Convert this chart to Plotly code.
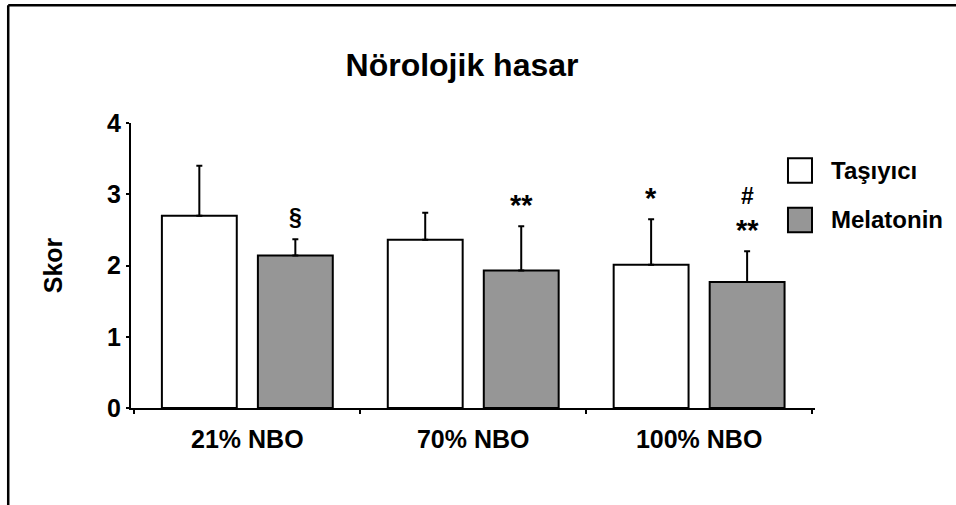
import plotly.graph_objects as go

categories = ["21% NBO", "70% NBO", "100% NBO"]
tasiyici_mean = [2.70, 2.36, 2.01]
tasiyici_err = [0.70, 0.38, 0.64]
melatonin_mean = [2.14, 1.93, 1.77]
melatonin_err = [0.23, 0.62, 0.43]
tasiyici_marks = ["", "", "*"]
melatonin_marks = ["§", "**", "**|#"]
series_names = ["Taşıyıcı", "Melatonin"]
y_ticks = [0, 1, 2, 3, 4]

FONT = "Liberation Sans, Arial, sans-serif"
GREY = "#969696"

fig = go.Figure()
fig.add_trace(go.Bar(
    x=categories, y=tasiyici_mean, name=series_names[0],
    marker=dict(color="white", line=dict(color="black", width=2)),
    error_y=dict(type="data", array=tasiyici_err, symmetric=False,
                 arrayminus=[0] * 3, color="black", thickness=2, width=3),
))
fig.add_trace(go.Bar(
    x=categories, y=melatonin_mean, name=series_names[1],
    marker=dict(color=GREY, line=dict(color="black", width=2)),
    error_y=dict(type="data", array=melatonin_err, symmetric=False,
                 arrayminus=[0] * 3, color="black", thickness=2, width=3),
))

annotations = []
for i, c in enumerate(categories):
    for marks, means, errs, shift in ((tasiyici_marks, tasiyici_mean, tasiyici_err, -48),
                                      (melatonin_marks, melatonin_mean, melatonin_err, 48)):
        if not marks[i]:
            continue
        for level, t in enumerate(marks[i].split("|")):
            star = "*" in t
            annotations.append(dict(
                x=c, y=means[i] + errs[i], xref="x", yref="y", text=t,
                showarrow=False, xshift=shift, yanchor="bottom",
                yshift=(3 if star else 7) + 33 * level,
                font=dict(family=FONT, size=29 if star else 23, color="black", weight="bold"),
            ))

# custom legend
legend_y = [0.833, 0.660]
legend_fill = ["white", GREY]
shapes = []
for name, yc, fill in zip(series_names, legend_y, legend_fill):
    shapes.append(dict(type="rect", xref="paper", yref="paper",
                       x0=0.9605, x1=0.9956, y0=yc - 0.043, y1=yc + 0.043,
                       line=dict(color="black", width=2), fillcolor=fill))
    annotations.append(dict(x=1.0205, y=yc, xref="paper", yref="paper", text=name,
                            showarrow=False, xanchor="left", yanchor="middle",
                            font=dict(family=FONT, size=24, color="black", weight="bold")))

# frame
shapes.append(dict(type="line", xref="paper", yref="paper", x0=-0.1795, x1=-0.1795,
                   y0=-0.4, y1=1.413, line=dict(color="black", width=2.5)))
shapes.append(dict(type="line", xref="paper", yref="paper", x0=-0.1795, x1=1.3,
                   y0=1.413, y1=1.413, line=dict(color="black", width=2.5)))

fig.update_layout(
    width=956, height=505,
    margin=dict(l=131, r=141, t=123, b=97),
    paper_bgcolor="white", plot_bgcolor="white",
    barmode="group", bargap=0.15, bargroupgap=0.22,
    showlegend=False,
    title=dict(text="Nörolojik hasar", x=462 / 956, xanchor="center",
               y=1 - 65 / 505, yanchor="middle", yref="container",
               font=dict(family=FONT, size=32, color="black", weight="bold")),
    annotations=annotations,
    shapes=shapes,
    font=dict(family=FONT, color="black"),
)
fig.update_xaxes(
    range=[-0.515, 2.513], showline=True, linecolor="black", linewidth=2,
    ticks="outside", tickson="boundaries", ticklen=4, tickwidth=2, tickcolor="black",
    ticklabelstandoff=8,
    showgrid=False, zeroline=False,
    tickfont=dict(family=FONT, size=25, color="black", weight="bold"),
)
fig.update_yaxes(
    range=[0, 4], tickvals=y_ticks, showline=True, linecolor="black", linewidth=2,
    ticks="outside", ticklen=3, tickwidth=2, tickcolor="black",
    showgrid=False, zeroline=False,
    tickfont=dict(family=FONT, size=25, color="black", weight="bold"),
    title=dict(text="Skor", standoff=37,
               font=dict(family=FONT, size=25, color="black", weight="bold")),
)

fig.write_html("out.html", config={"displayModeBar": False},
               post_script="document.body.style.margin='0';")
